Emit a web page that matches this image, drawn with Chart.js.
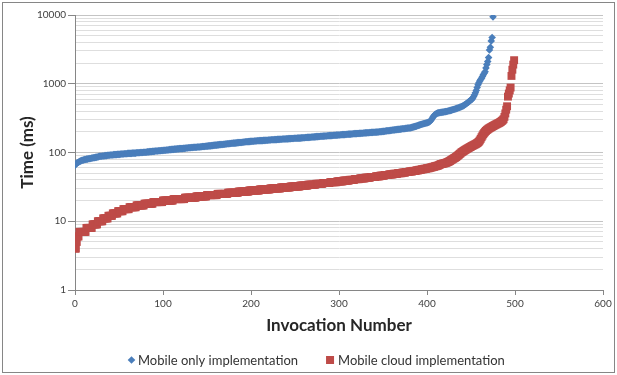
<!DOCTYPE html>
<html>
<head>
<meta charset="utf-8">
<title>Invocation time</title>
<script src="https://cdn.jsdelivr.net/npm/chart.js@4.4.0/dist/chart.umd.min.js"></script>
<style>
  html, body { margin: 0; padding: 0; background: #ffffff; }
  #wrap { width: 617px; height: 375px; position: relative; }
  canvas { display: block; }
</style>
</head>
<body>
<div id="wrap"><canvas id="chart" width="617" height="375"></canvas></div>
<script>
// Series names (legend order)
const seriesNames = ['Mobile only implementation', 'Mobile cloud implementation'];

// Sorted response times in ms, one value per invocation (invocation number = index)
const mobileOnlyMs = [
  65,68,70,71,72,74,75,76,77,77,78,
  79,79,80,80,81,81,82,82,83,83,84,84,85,85,86,86,87,88,
  88,88,89,89,89,90,90,90,91,91,91,92,
  92,92,92,93,93,93,93,94,94,94,94,95,95,95,95,96,96,96,96,97,
  97,97,97,97,98,98,98,98,98,99,99,99,99,100,100,100,100,
  101,101,101,101,102,102,102,103,103,103,104,104,104,105,105,105,105,106,106,106,107,107,107,
  108,108,108,109,109,109,110,110,110,111,111,111,112,112,112,113,113,113,114,114,114,114,115,115,115,116,116,116,117,117,117,118,118,118,119,119,119,119,120,120,120,120,
  121,121,122,122,122,123,123,124,124,125,125,125,126,126,127,127,128,128,128,129,129,130,130,131,131,131,132,132,133,133,134,134,134,135,135,136,136,137,137,137,138,138,139,139,140,140,140,141,141,142,142,143,143,143,144,144,145,145,
  146,146,146,147,147,147,148,148,148,149,149,149,149,150,150,150,151,151,151,152,152,152,153,153,153,153,154,154,154,155,155,155,156,156,156,157,157,157,157,158,158,158,159,159,159,160,160,160,161,161,161,161,162,162,162,162,
  163,163,164,164,164,165,165,166,166,166,167,167,168,168,168,169,169,170,170,170,171,171,172,172,172,173,173,174,174,174,175,175,176,176,176,177,177,178,178,178,179,179,180,180,180,
  181,181,182,182,182,183,183,184,184,185,185,185,186,186,187,187,188,188,188,189,189,190,190,191,191,191,192,192,193,193,194,194,194,195,195,196,196,197,197,197,198,198,199,199,200,200,
  201,202,203,203,204,205,206,207,207,208,209,210,211,212,212,213,214,215,216,217,217,218,219,220,221,222,222,223,224,225,226,227,227,228,
  230,232,234,236,238,240,242,245,248,250,252,255,257,260,262,264,266,268,270,273,276,280,
  290,300,315,330,345,355,362,368,375,
  377,379,381,383,385,387,389,391,393,395,398,401,404,407,410,414,418,422,426,430,434,438,443,448,453,458,464,470,477,485,495,
  505,515,528,540,555,570,580,590,620,650,690,740,800,880,970,1030,1100,1150,1200,1270,1350,1420,1500,1700,1900,2100,2400,3100,3400,4200,4700,9400
];

const mobileCloudMs = [
  4,4,5,6,6,
  7,7,7,7,7,7,7,7,
  8,8,8,8,8,8,8,
  9,9,9,9,9,9,
  10,10,10,10,10,10,
  11,11,11,11,11,11,
  12,12,12,12,12,
  13,13,13,13,13,13,
  14,14,14,14,14,14,
  15,15,15,15,15,15,15,
  16,16,16,16,16,16,16,16,
  17,17,17,17,17,17,17,17,17,
  18,18,18,18,18,18,18,18,18,18,
  19,19,19,19,19,19,19,19,19,19,19,
  20,20,20,20,20,20,20,20,20,20,20,20,
  21,21,21,21,21,21,21,21,21,21,21,21,21,
  22,22,22,22,22,22,22,22,22,22,22,22,22,
  23,23,23,23,23,23,23,23,23,23,23,23,
  24,24,24,24,24,24,24,24,24,24,24,24,
  25,25,25,25,25,25,25,25,25,25,25,25,
  26,26,26,26,26,26,26,26,26,26,26,26,
  27,27,27,27,27,27,27,27,27,27,27,27,
  28,28,28,28,28,28,28,28,28,28,28,28,
  29,29,29,29,29,29,29,29,29,29,29,29,
  30,30,30,30,30,30,30,30,30,30,30,30,
  31,31,31,31,31,31,31,31,31,31,31,
  32,32,32,32,32,32,32,32,32,32,32,
  33,33,33,33,33,33,33,33,33,
  34,34,34,34,34,34,34,34,34,
  35,35,35,35,35,35,35,35,
  36,36,36,36,36,36,36,36,
  37,37,37,37,37,37,37,37,
  38,38,38,38,38,38,38,
  39,39,39,39,39,39,39,
  40,40,40,40,40,40,
  41,41,41,41,41,41,
  42,42,42,42,42,42,
  43,43,43,43,43,43,
  44,44,44,44,44,44,
  45,45,45,45,45,
  46,46,46,46,46,
  47,47,47,47,47,
  48,48,48,48,48,
  49,49,49,49,49,
  50,50,50,50,50,
  51,51,51,51,
  52,52,52,52,
  53,53,53,53,
  54,54,54,54,
  55,55,55,
  56,56,56,
  57,57,57,
  58,58,58,
  59,59,59,
  60,60,61,61,62,62,63,63,64,64,
  65,66,67,68,68,69,69,70,70,71,72,
  73,74,75,77,78,80,81,83,84,86,
  88,90,92,95,97,100,102,104,106,108,
  110,112,114,116,118,120,122,124,126,128,
  130,132,134,137,140,144,150,158,167,176,
  185,193,200,206,212,217,222,226,230,234,
  238,242,246,250,254,258,262,266,270,275,
  280,287,295,305,330,370,420,470,650,720,
  800,880,1300,1600,1900,2200
];

// Axis ticks
const xTickLabels = [0, 100, 200, 300, 400, 500, 600];
const yDecades = [1, 10, 100, 1000, 10000];

// Log-axis grid: every integer multiple inside each decade
const yGridValues = [];
yDecades.forEach((d, i) => {
  if (i === yDecades.length - 1) { yGridValues.push(d); return; }
  for (let m = 1; m <= 9; m++) yGridValues.push(d * m);
});
const isDecade = v => yDecades.includes(v);

const BLUE = '#4a7ebb';
const RED = '#be4b48';
const AXIS = '#868686';
const FONT = 'Lato';

Chart.defaults.font.family = FONT;

// White page, thin outer frame and the legend row under the axis title
const frameAndKey = {
  id: 'frameAndKey',
  beforeDraw(chart) {
    const ctx = chart.ctx;
    ctx.save();
    ctx.fillStyle = '#ffffff';
    ctx.fillRect(0, 0, chart.width, chart.height);
    ctx.restore();
  },
  afterDraw(chart) {
    const ctx = chart.ctx;
    ctx.save();
    ctx.strokeStyle = AXIS;
    ctx.lineWidth = 1;
    ctx.strokeRect(2.5, 2.5, chart.width - 5, chart.height - 5);

    const y = 360;
    let x = 128;
    ctx.font = '13px ' + FONT;
    ctx.textBaseline = 'middle';
    ctx.textAlign = 'left';
    chart.data.datasets.forEach((ds, i) => {
      ctx.fillStyle = ds.backgroundColor;
      if (ds.pointStyle === 'rectRot') {
        const cx = x + 3.5, r = 3.8;
        ctx.beginPath();
        ctx.moveTo(cx, y - r); ctx.lineTo(cx + r, y); ctx.lineTo(cx, y + r); ctx.lineTo(cx - r, y);
        ctx.closePath(); ctx.fill();
        x += 10;
      } else {
        ctx.fillRect(x, y - 4, 8, 8);
        x += 12;
      }
      ctx.fillStyle = '#333333';
      ctx.fillText(ds.label, x, y + 0.5);
      x += ctx.measureText(ds.label).width + 28;
    });
    ctx.restore();
  }
};

const toPoints = arr => arr.map((v, i) => ({ x: i, y: v }));

new Chart(document.getElementById('chart'), {
  type: 'scatter',
  data: {
    datasets: [
      {
        label: seriesNames[0],
        data: toPoints(mobileOnlyMs),
        backgroundColor: BLUE,
        borderColor: BLUE,
        borderWidth: 0,
        pointStyle: 'rectRot',
        pointRadius: 3.8,
        showLine: false
      },
      {
        label: seriesNames[1],
        data: toPoints(mobileCloudMs),
        backgroundColor: RED,
        borderColor: RED,
        borderWidth: 0,
        pointStyle: 'rect',
        pointRadius: 5.6,
        showLine: false
      }
    ]
  },
  options: {
    responsive: false,
    animation: false,
    events: [],
    layout: { padding: { left: 0, right: 14, top: 15, bottom: 35 } },
    plugins: {
      legend: { display: false },
      tooltip: { enabled: false }
    },
    scales: {
      x: {
        type: 'linear',
        position: 'bottom',
        min: xTickLabels[0],
        max: xTickLabels[xTickLabels.length - 1],
        afterBuildTicks(scale) { scale.ticks = xTickLabels.map(v => ({ value: v })); },
        ticks: { color: '#404040', font: { size: 10 }, padding: 3, maxRotation: 0, autoSkip: false },
        grid: { drawOnChartArea: false, drawTicks: true, tickLength: 5, tickColor: AXIS },
        border: { color: AXIS },
        title: {
          display: true,
          text: 'Invocation Number',
          color: '#262626',
          font: { size: 17, weight: 'bold' },
          padding: { top: 0, bottom: 4 }
        },
        afterFit(scale) { scale.height = 50; }
      },
      y: {
        type: 'logarithmic',
        min: yDecades[0],
        max: yDecades[yDecades.length - 1],
        afterBuildTicks(scale) { scale.ticks = yGridValues.map(v => ({ value: v })); },
        ticks: {
          autoSkip: false,
          color: '#404040',
          font: { size: 10 },
          padding: 2,
          callback: v => (isDecade(v) ? String(v) : '')
        },
        grid: {
          color: c => (isDecade(c.tick.value) ? '#c4c4c4' : '#dedede'),
          tickColor: c => (isDecade(c.tick.value) ? AXIS : 'rgba(0,0,0,0)'),
          tickLength: 7,
          lineWidth: 1
        },
        border: { color: AXIS },
        title: {
          display: true,
          text: 'Time (ms)',
          color: '#262626',
          font: { size: 17, weight: 'bold' },
          padding: { top: 17, bottom: 0 }
        },
        afterFit(scale) { scale.width = 75; }
      }
    }
  },
  plugins: [frameAndKey]
});
</script>
</body>
</html>
